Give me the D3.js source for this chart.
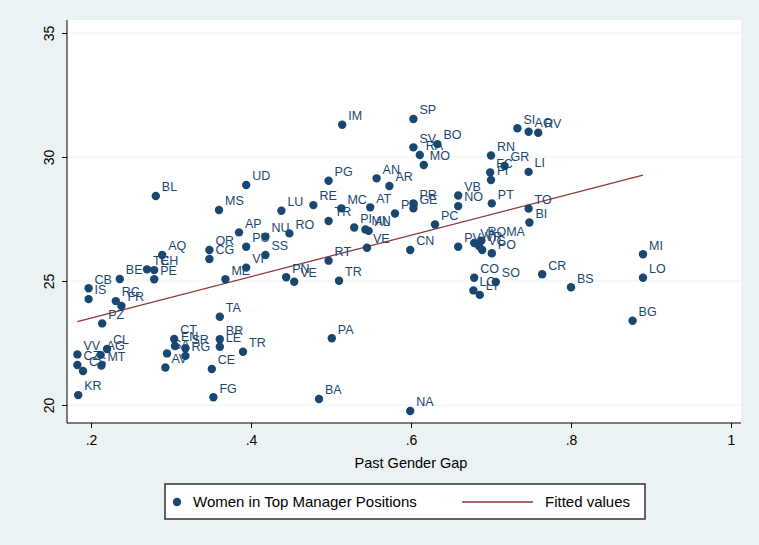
<!DOCTYPE html>
<html>
<head>
<meta charset="utf-8">
<script src="https://cdn.jsdelivr.net/npm/d3@7"></script>
<style>
  html, body { margin: 0; padding: 0; background: #eaf2f3; }
  svg { display: block; font-family: "Liberation Sans", Arial, sans-serif; }
</style>
</head>
<body>
<svg id="chart" width="759" height="545"></svg>
<script>
// Province codes and their values
const provinces = ["BL","MS","UD","AP","PU","OR","CG","VI","ME","SS","NU","RO","LU","RE","PG","IM","SP","SV","RA","MO","BO","AN","AR","MC","AT","TR","PI","MN","AL","PD","PR","GE","PC","VE","CN","RT","PN","VE","TR","PA","BA","NA","RN","GR","FC","FI","LI","SI","AO","RV","VB","NO","PT","TO","BI","PV","VA","ROMA","VR","VC","PO","CO","SO","LC","LT","CR","BS","MI","LO","BG","AQ","TE","CH","PE","BE","CB","IS","RC","FR","PZ","VV","CL","AG","MT","CZ","CS","KR","CT","EN","SR","RG","SA","AV","TA","BR","LE","TR","CE","FG"];

// Past gender gap (x)
const pastGap = [0.281,0.360,0.394,0.385,0.394,0.348,0.348,0.394,0.368,0.418,0.418,0.448,0.438,0.478,0.497,0.514,0.603,0.603,0.611,0.616,0.633,0.557,0.573,0.513,0.549,0.497,0.529,0.543,0.547,0.580,0.603,0.603,0.630,0.545,0.599,0.497,0.444,0.454,0.510,0.501,0.485,0.599,0.700,0.717,0.699,0.700,0.747,0.733,0.747,0.759,0.659,0.659,0.701,0.747,0.748,0.659,0.679,0.688,0.685,0.689,0.701,0.679,0.706,0.678,0.686,0.764,0.800,0.890,0.890,0.877,0.289,0.270,0.279,0.279,0.236,0.197,0.197,0.231,0.238,0.214,0.183,0.220,0.212,0.213,0.183,0.190,0.184,0.304,0.305,0.318,0.318,0.295,0.293,0.361,0.361,0.361,0.390,0.351,0.353];

// Women in top manager positions (y)
const womenTop = [28.43,27.86,28.87,26.96,26.38,26.25,25.89,25.54,25.07,26.05,26.79,26.92,27.83,28.06,29.04,31.30,31.53,30.39,30.08,29.68,30.52,29.14,28.83,27.93,27.97,27.42,27.16,27.08,27.02,27.72,28.13,27.93,27.28,26.34,26.25,25.82,25.15,24.97,25.01,22.69,20.24,19.76,30.06,29.64,29.38,29.07,29.40,31.16,31.02,30.98,28.45,28.02,28.13,27.92,27.36,26.38,26.53,26.63,26.41,26.25,26.12,25.13,24.96,24.62,24.44,25.27,24.75,26.08,25.13,23.40,26.05,25.47,25.44,25.07,25.08,24.71,24.27,24.19,23.99,23.29,22.04,22.26,22.02,21.59,21.61,21.37,20.40,22.66,22.38,22.29,21.98,22.08,21.51,23.56,22.65,22.35,22.15,21.45,20.31];

// Fitted values of the linear fit, at the ends of the data range
const fitGap = [0.183, 0.890];
const fitValues = [23.36, 29.27];

// Axis ticks
const xTicks = [0.2, 0.4, 0.6, 0.8, 1];
const xTickLabels = [".2", ".4", ".6", ".8", "1"];
const yTicks = [20, 25, 30, 35];

const navy = "#1a476f";
const maroon = "#90353b";

const svg = d3.select("#chart");

// plot region
const region = { left: 67, right: 741, top: 20, bottom: 423 };
svg.append("rect")
  .attr("x", region.left).attr("y", region.top)
  .attr("width", region.right - region.left)
  .attr("height", region.bottom - region.top)
  .attr("fill", "#ffffff");

const x = d3.scaleLinear().domain([0.2, 1]).range([91, 731]);
const y = d3.scaleLinear().domain([20, 35]).range([405, 33]);

// horizontal grid lines
svg.append("g").selectAll("line").data(yTicks).join("line")
  .attr("x1", region.left).attr("x2", region.right)
  .attr("y1", d => y(d)).attr("y2", d => y(d))
  .attr("stroke", "#eaf2f3").attr("stroke-width", 1);

// y axis
const yAxis = svg.append("g")
  .attr("transform", `translate(${region.left},0)`)
  .call(d3.axisLeft(y).tickValues(yTicks).tickFormat(d3.format("d")).tickSize(5).tickSizeOuter(0));
yAxis.select(".domain").attr("d", `M0,${region.top}V${region.bottom}`).attr("stroke", "#000");
yAxis.selectAll(".tick line").attr("stroke", "#000");
yAxis.selectAll(".tick text")
  .attr("x", 0).attr("y", 0).attr("dy", null)
  .attr("text-anchor", "middle")
  .attr("transform", "translate(-13,0) rotate(-90)")
  .attr("font-size", 14).attr("fill", "#000")
  .attr("font-family", "'Liberation Sans', Arial, sans-serif");

// x axis
const xAxis = svg.append("g")
  .attr("transform", `translate(0,${region.bottom})`)
  .call(d3.axisBottom(x).tickValues(xTicks).tickFormat((d, i) => xTickLabels[i]).tickSize(5).tickSizeOuter(0));
xAxis.select(".domain").attr("d", `M${region.left},0H${region.right}`).attr("stroke", "#000");
xAxis.selectAll(".tick line").attr("stroke", "#000");
xAxis.selectAll(".tick text")
  .attr("y", 12).attr("dy", "0.71em")
  .attr("font-size", 14).attr("fill", "#000")
  .attr("font-family", "'Liberation Sans', Arial, sans-serif");

// axis title
svg.append("text")
  .attr("x", (x(0.2) + x(1)) / 2).attr("y", 468)
  .attr("text-anchor", "middle")
  .attr("font-size", 14.5).attr("fill", "#000")
  .text("Past Gender Gap");

// fitted line
svg.append("path")
  .datum(fitGap.map((g, i) => [g, fitValues[i]]))
  .attr("d", d3.line().x(d => x(d[0])).y(d => y(d[1])))
  .attr("fill", "none").attr("stroke", maroon).attr("stroke-width", 1.3);

// points
const pts = provinces.map((p, i) => ({ name: p, gap: pastGap[i], share: womenTop[i] }));
svg.append("g").selectAll("circle").data(pts).join("circle")
  .attr("cx", d => x(d.gap)).attr("cy", d => y(d.share))
  .attr("r", 4.2).attr("fill", navy);

// point labels
svg.append("g").selectAll("text").data(pts).join("text")
  .attr("x", d => x(d.gap) + 6).attr("y", d => y(d.share) - 9)
  .attr("dy", "0.35em")
  .attr("font-size", 12.5).attr("fill", navy)
  .text(d => d.name);

// legend
const legend = svg.append("g");
legend.append("rect")
  .attr("x", 165).attr("y", 484).attr("width", 480).attr("height", 35)
  .attr("fill", "#fff").attr("stroke", "#333").attr("stroke-width", 1.5);
legend.append("circle").attr("cx", 177).attr("cy", 502).attr("r", 4.2).attr("fill", navy);
legend.append("text").attr("x", 193).attr("y", 507)
  .attr("font-size", 15).attr("fill", "#000")
  .text("Women in Top Manager Positions");
legend.append("line").attr("x1", 462).attr("x2", 533).attr("y1", 502).attr("y2", 502)
  .attr("stroke", maroon).attr("stroke-width", 1.3);
legend.append("text").attr("x", 545).attr("y", 507)
  .attr("font-size", 15).attr("fill", "#000")
  .text("Fitted values");
</script>
</body>
</html>
